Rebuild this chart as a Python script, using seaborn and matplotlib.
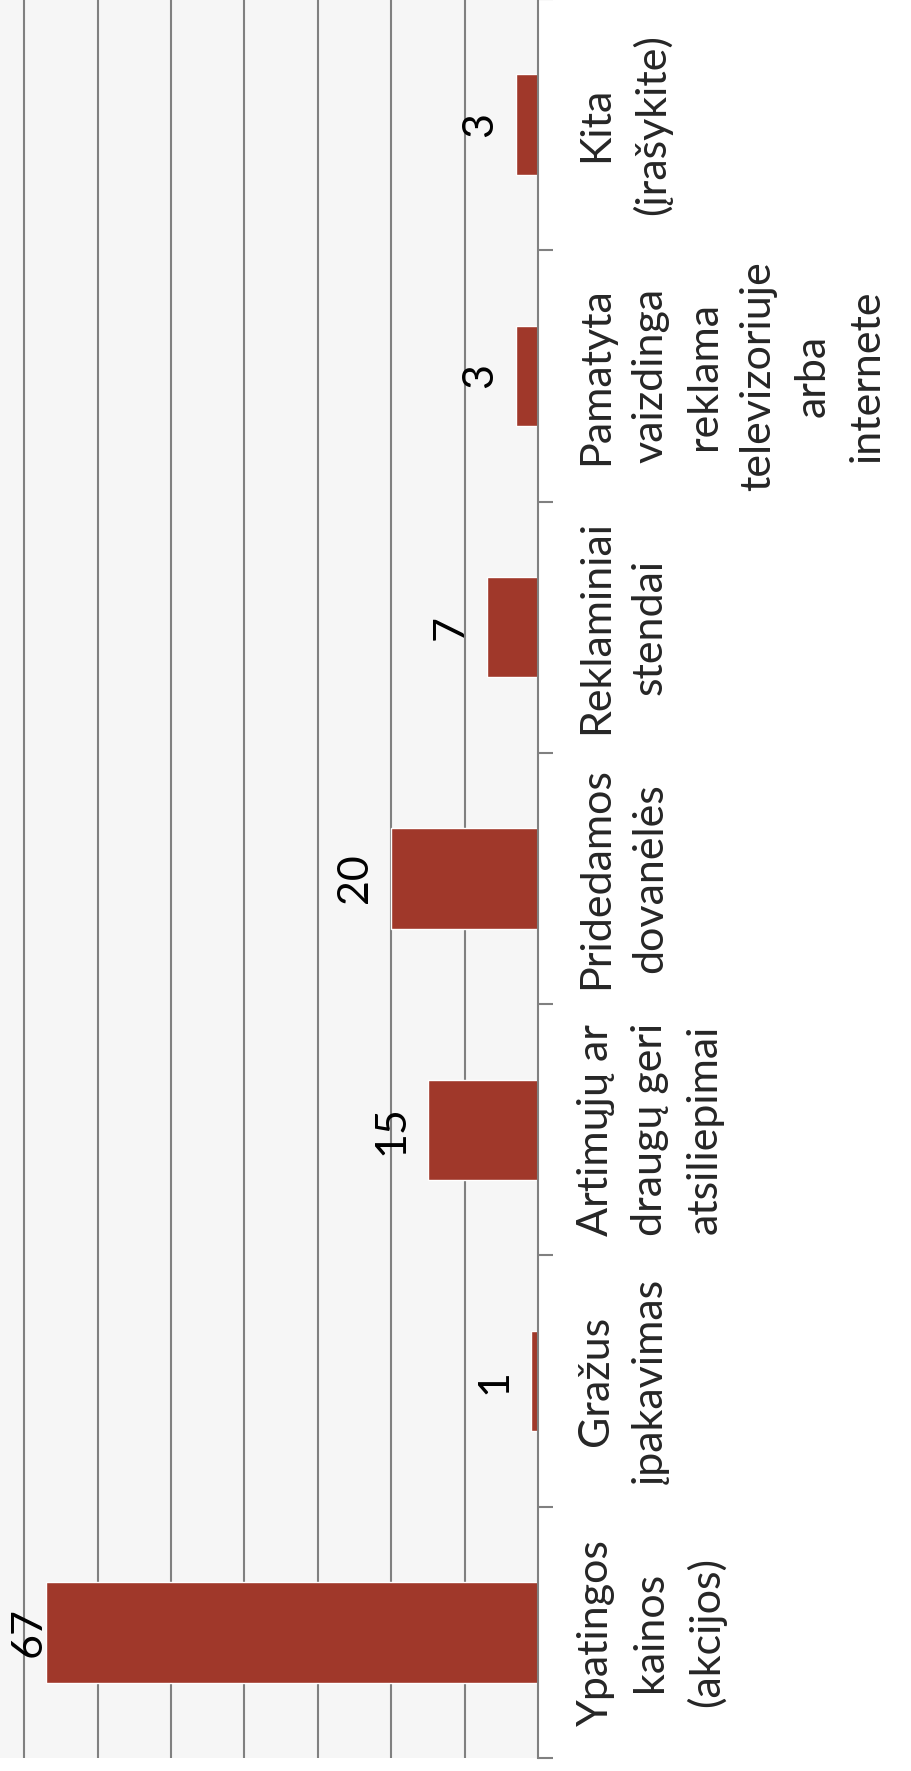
import matplotlib
matplotlib.use("Agg")

import numpy as np
import pandas as pd
import matplotlib.pyplot as plt
import seaborn as sns

# ==========================
# Data (first category is drawn at the bottom)
# ==========================
categories = [
    "Ypatingos\nkainos\n(akcijos)",
    "Gražus\nįpakavimas",
    "Artimųjų ar\ndraugų geri\natsiliepimai",
    "Pridedamos\ndovanėlės",
    "Reklaminiai\nstendai",
    "Pamatyta\nvaizdinga\nreklama\ntelevizoriuje\narba\ninternete",
    "Kita\n(įrašykite)",
]
values = [67, 1, 15, 20, 7, 3, 3]
gridlines = [10, 20, 30, 40, 50, 60, 70]

df = pd.DataFrame({"cat": categories, "val": values})

BAR_COLOR = "#A0382A"
GRID_COLOR = "#808080"
XMAX = 73.3

sns.set_theme(style="white")
plt.rcParams["font.family"] = ["Lato", "DejaVu Sans"]

fig = plt.figure(figsize=(9.12, 17.71), dpi=100)
fig.patch.set_facecolor("white")
ax = fig.add_axes([0.0, 13 / 1771, 538 / 912, (1771 - 13 + 1) / 1771])
ax.set_facecolor("#f6f6f6")

sns.barplot(data=df, x="val", y="cat", orient="h", color=BAR_COLOR,
            width=0.4, saturation=1, ax=ax, zorder=3)

# orientation: first category at bottom, bars growing to the left
ax.set_ylim(-0.5, len(categories) - 0.5)
ax.set_xlim(XMAX, 0)

for g in gridlines:
    ax.axvline(g, color=GRID_COLOR, lw=1.5, zorder=1)

for s in ["left", "top", "bottom"]:
    ax.spines[s].set_visible(False)
ax.spines["right"].set_color(GRID_COLOR)
ax.spines["right"].set_linewidth(1.5)
ax.spines["right"].set_zorder(4)

ax.set_xticks([])
ax.set_xlabel("")
ax.set_ylabel("")

ax.yaxis.tick_right()
ax.set_yticks(range(len(categories)))
ax.set_yticklabels(categories, rotation=90, va="center", ha="left",
                   multialignment="center", fontsize=31, linespacing=1.52)
ax.set_yticks(np.arange(-0.5, len(categories), 1.0), minor=True)
ax.tick_params(axis="y", which="major", length=0, pad=28)
ax.tick_params(axis="y", which="minor", length=11, width=1.5,
               color=GRID_COLOR, direction="out")

# value labels ("outside end", kept inside the plot area)
for i, v in enumerate(values):
    lab_x = min(v + 3.3, XMAX - 5.6)
    ax.text(lab_x, i, str(v), rotation=90, rotation_mode="anchor",
            ha="center", va="baseline", fontsize=31, color="black", zorder=5)

fig.savefig("out.png", dpi=100, facecolor=fig.get_facecolor())
